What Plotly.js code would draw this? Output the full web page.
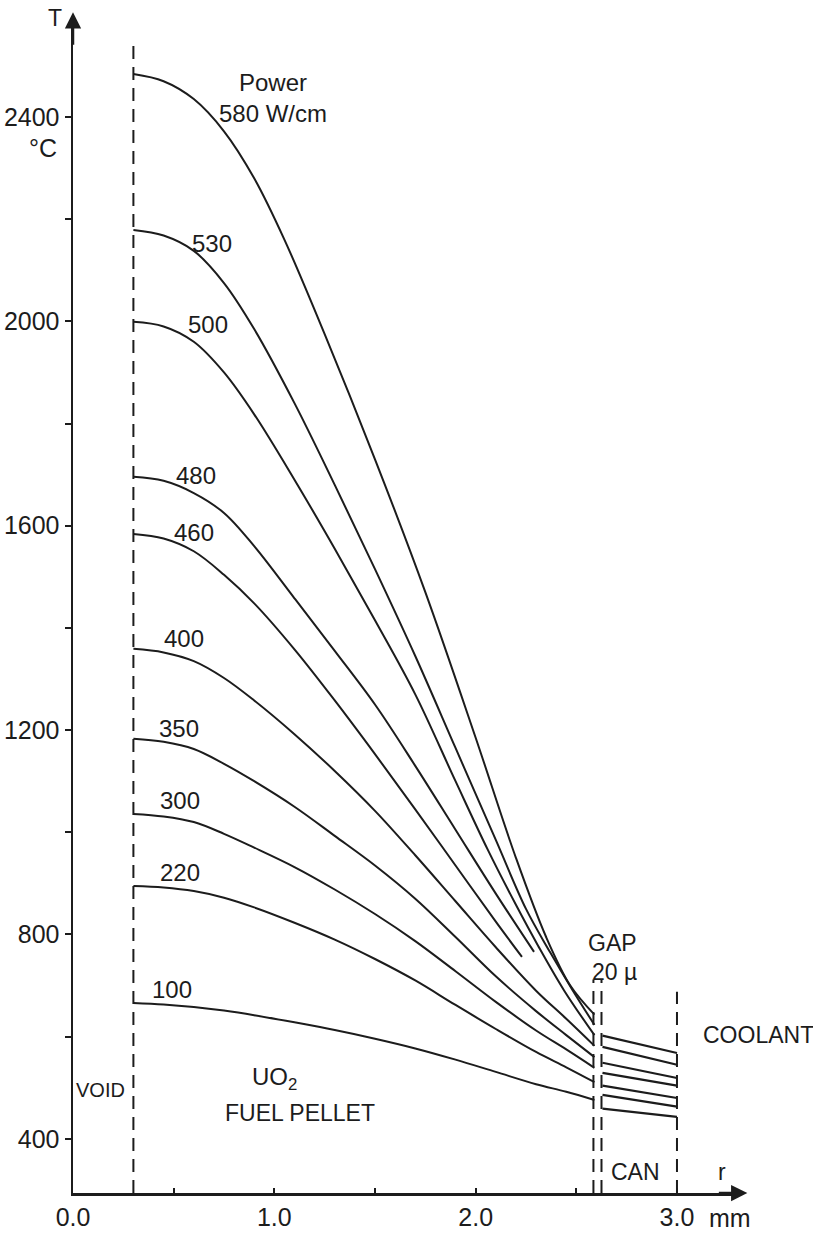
<!DOCTYPE html>
<html>
<head>
<meta charset="utf-8">
<script src="https://cdn.plot.ly/plotly-3.0.1.min.js"></script>
<style>
  html, body { margin: 0; padding: 0; background: #ffffff; }
  #chart { width: 813px; height: 1238px; }
</style>
</head>
<body>
<div id="chart"></div>
<script>
// ---- Data (radius r in mm, temperature T in °C) ----
const powers = ['580', '530', '500', '480', '460', '400', '350', '300', '220', '100'];

const r_580 = [0.30, 0.45, 0.60, 0.75, 0.90, 1.05, 1.25, 1.50, 1.75, 2.00, 2.20, 2.35, 2.47, 2.59];
const T_580 = [2484, 2470, 2435, 2372, 2280, 2160, 1975, 1730, 1470, 1185, 950, 795, 700, 643];

const r_530 = [0.30, 0.45, 0.60, 0.75, 0.90, 1.10, 1.30, 1.50, 1.70, 1.90, 2.10, 2.25, 2.37, 2.48, 2.59];
const T_530 = [2179, 2168, 2138, 2075, 1985, 1840, 1680, 1515, 1345, 1165, 985, 850, 765, 692, 623];

const r_500 = [0.30, 0.45, 0.60, 0.75, 0.90, 1.10, 1.30, 1.50, 1.70, 1.90, 2.06, 2.20, 2.31, 2.44, 2.59];
const T_500 = [1999, 1990, 1960, 1900, 1818, 1690, 1555, 1415, 1270, 1100, 966, 858, 778, 690, 603];

const r_480 = [0.30, 0.45, 0.60, 0.75, 0.90, 1.10, 1.30, 1.50, 1.70, 1.90, 2.10, 2.29];
const T_480 = [1696, 1688, 1664, 1625, 1560, 1458, 1355, 1250, 1130, 1005, 880, 766];

const r_460 = [0.30, 0.45, 0.60, 0.75, 0.90, 1.10, 1.30, 1.50, 1.70, 1.90, 2.10, 2.23];
const T_460 = [1584, 1575, 1550, 1504, 1448, 1358, 1258, 1153, 1045, 935, 825, 756];

const r_400 = [0.30, 0.45, 0.60, 0.75, 0.90, 1.10, 1.30, 1.50, 1.70, 1.90, 2.10, 2.30, 2.45, 2.59];
const T_400 = [1359, 1352, 1335, 1302, 1258, 1192, 1120, 1042, 955, 865, 775, 690, 635, 582];

const r_350 = [0.30, 0.45, 0.60, 0.75, 0.90, 1.10, 1.30, 1.50, 1.70, 1.90, 2.10, 2.30, 2.45, 2.59];
const T_350 = [1183, 1177, 1163, 1134, 1100, 1050, 993, 935, 870, 795, 718, 650, 603, 560];

const r_300 = [0.30, 0.45, 0.60, 0.75, 0.90, 1.10, 1.30, 1.50, 1.70, 1.90, 2.10, 2.30, 2.45, 2.59];
const T_300 = [1036, 1031, 1020, 997, 970, 932, 888, 840, 787, 728, 668, 612, 575, 539];

const r_220 = [0.30, 0.45, 0.60, 0.75, 0.90, 1.10, 1.30, 1.50, 1.70, 1.90, 2.10, 2.30, 2.45, 2.59];
const T_220 = [895, 892, 885, 872, 853, 823, 790, 752, 710, 662, 615, 570, 540, 511];

const r_100 = [0.30, 0.45, 0.60, 0.75, 0.90, 1.10, 1.30, 1.50, 1.70, 1.90, 2.10, 2.30, 2.45, 2.59];
const T_100 = [666, 663, 658, 651, 642, 628, 613, 596, 577, 555, 531, 507, 492, 476];

// cladding (can) temperature drops
const canStartT = [602, 580, 549, 529, 504, 486, 459];
const canEndT   = [568, 545, 519, 504, 480, 463, 443];

// region boundaries (mm) and their drawn heights (°C)
const rVoid = 0.30, rGapIn = 2.585, rGapOut = 2.625, rCanIn = 2.63, rCool = 3.0;
const tBottom = 294, voidTop = 2551, gapTop = 712, coolTop = 688;

// tick labels
const xTickVals = [0, 0.5, 1.0, 1.5, 2.0, 2.5, 3.0];
const xTickText = ['0.0', '', '1.0', '', '2.0', '', '3.0'];
const yTickVals = [400, 600, 800, 1000, 1200, 1400, 1600, 1800, 2000, 2200, 2400];
const yTickText = ['400', '', '800', '', '1200', '', '1600', '', '2000', '', '2400'];

// ---- Build traces ----
const INK = '#1c1c1c';
const FONT = 'Liberation Sans, Arial, sans-serif';
const curves = [
  [r_580, T_580], [r_530, T_530], [r_500, T_500], [r_480, T_480], [r_460, T_460],
  [r_400, T_400], [r_350, T_350], [r_300, T_300], [r_220, T_220], [r_100, T_100]
];
const traces = [];
curves.forEach((c, i) => {
  traces.push({
    x: c[0], y: c[1], type: 'scatter', mode: 'lines', name: powers[i],
    line: {color: INK, width: 2, shape: 'spline', smoothing: 1},
    hoverinfo: 'skip', showlegend: false
  });
});
canStartT.forEach((t0, i) => {
  traces.push({
    x: [rCanIn, rCool], y: [t0, canEndT[i]], type: 'scatter', mode: 'lines',
    line: {color: INK, width: 2.2}, hoverinfo: 'skip', showlegend: false
  });
});
const dash = '13px,8px';
[[rVoid, voidTop], [rGapIn, gapTop], [rGapOut, gapTop], [rCool, coolTop]].forEach(b => {
  traces.push({
    x: [b[0], b[0]], y: [tBottom, b[1]], type: 'scatter', mode: 'lines',
    line: {color: INK, width: 2, dash: dash}, hoverinfo: 'skip', showlegend: false
  });
});

// ---- Annotations ----
function txt(x, y, text, size, extra) {
  return Object.assign({x: x, y: y, xref: 'x', yref: 'y', text: text, showarrow: false,
    xanchor: 'center', yanchor: 'middle',
    font: {family: FONT, size: size || 24, color: INK}}, extra || {});
}
function ptxt(x, y, text, size, extra) {
  return Object.assign({x: x, y: y, xref: 'paper', yref: 'paper', text: text, showarrow: false,
    xanchor: 'center', yanchor: 'middle',
    font: {family: FONT, size: size || 24, color: INK}}, extra || {});
}
const ann = [
  ptxt(-0.027, 1.006, 'T', 23),
  ptxt(-0.045, 0.8946, '°C', 25),
  txt(0.994, 2437, 'Power<br>580 W/cm', 24, {align: 'center'}),
  txt(0.69, 2153, powers[1]),
  txt(0.671, 1993, powers[2]),
  txt(0.611, 1699, powers[3]),
  txt(0.601, 1586, powers[4]),
  txt(0.551, 1380, powers[5]),
  txt(0.527, 1204, powers[6]),
  txt(0.532, 1063, powers[7]),
  txt(0.532, 922, powers[8]),
  txt(0.492, 692, powers[9]),
  txt(0.139, 496, 'VOID', 20),
  txt(1.003, 519, 'UO<sub>2</sub>', 24),
  txt(1.128, 451, 'FUEL PELLET', 23),
  txt(2.678, 783, 'GAP', 23),
  txt(2.692, 727, '20 µ', 23),
  ptxt(1.027, 0.1353, 'COOLANT', 23),
  txt(2.792, 335, 'CAN', 23),
  txt(3.224, 335, 'r', 23),
  ptxt(0.985, -0.0214, 'mm', 25),
  // axis arrows
  {x: 1.011, y: 0, xref: 'paper', yref: 'paper', text: '', showarrow: true, ax: -30, ay: 0,
   arrowhead: 2, arrowsize: 1.3, arrowwidth: 2.5, arrowcolor: INK},
  {x: 0, y: 1.011, xref: 'paper', yref: 'paper', text: '', showarrow: true, ax: 0, ay: 34,
   arrowhead: 2, arrowsize: 1.3, arrowwidth: 2.5, arrowcolor: INK}
];

const layout = {
  width: 813, height: 1238,
  margin: {l: 73, r: 73, t: 25, b: 45, pad: 0},
  paper_bgcolor: '#ffffff', plot_bgcolor: '#ffffff',
  showlegend: false,
  xaxis: {
    range: [0, 3.313], showgrid: false, zeroline: false,
    showline: true, linecolor: INK, linewidth: 2.5,
    tickmode: 'array', tickvals: xTickVals, ticktext: xTickText,
    ticks: 'inside', ticklen: 5, tickwidth: 2, tickcolor: INK,
    tickfont: {family: FONT, size: 25, color: INK}
  },
  yaxis: {
    range: [tBottom, 2580], showgrid: false, zeroline: false,
    showline: true, linecolor: INK, linewidth: 2.5,
    tickmode: 'array', tickvals: yTickVals, ticktext: yTickText,
    ticks: 'outside', ticklen: 6, tickwidth: 2, tickcolor: INK,
    tickfont: {family: FONT, size: 25, color: INK}
  },
  annotations: ann
};

Plotly.newPlot('chart', traces, layout, {staticPlot: true, displayModeBar: false});
</script>
</body>
</html>
